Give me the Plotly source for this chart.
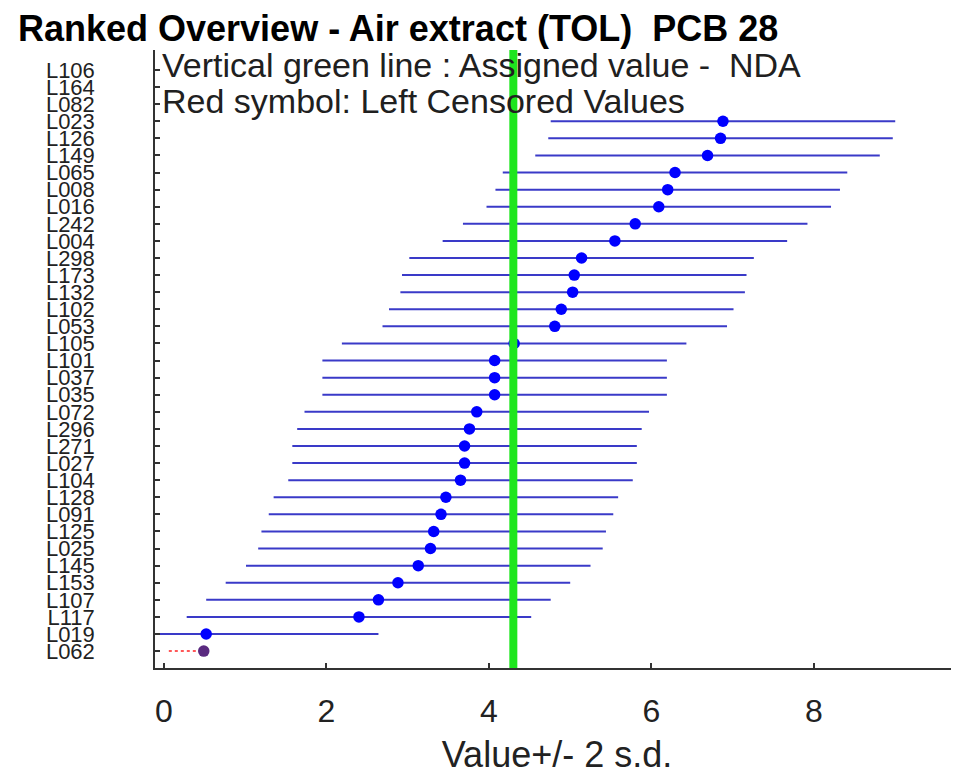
import plotly.graph_objects as go

# Lab codes, bottom (index 0) to top
labs = ["L062", "L019", "L117", "L107", "L153", "L145", "L025", "L125", "L091",
        "L128", "L104", "L027", "L271", "L296", "L072", "L035", "L037", "L101",
        "L105", "L053", "L102", "L132", "L173", "L298", "L004", "L242", "L016",
        "L008", "L065", "L149", "L126", "L023", "L082", "L164", "L106"]

# Reported values (blue symbols)
value_labs = ["L019", "L117", "L107", "L153", "L145", "L025", "L125", "L091",
              "L128", "L104", "L027", "L271", "L296", "L072", "L035", "L037",
              "L101", "L105", "L053", "L102", "L132", "L173", "L298", "L004",
              "L242", "L016", "L008", "L065", "L149", "L126", "L023"]
values = [0.52, 2.40, 2.64, 2.88, 3.13, 3.28, 3.32, 3.41,
          3.47, 3.65, 3.70, 3.70, 3.76, 3.85, 4.07, 4.07,
          4.07, 4.31, 4.81, 4.89, 5.03, 5.05, 5.14, 5.55,
          5.80, 6.09, 6.20, 6.29, 6.69, 6.85, 6.88]
two_sd = 2.12

# Left censored values
censored_labs = ["L062"]
censored_values = [0.49]

assigned_value = 4.30

x_ticks = [0, 2, 4, 6, 8]

FONT = "Liberation Sans, Arial, sans-serif"

W, H = 951, 767

ypos = {lab: i for i, lab in enumerate(labs)}

fig = go.Figure()

fig.add_trace(go.Scatter(
    x=values,
    y=[ypos[l] for l in value_labs],
    mode="markers",
    marker=dict(color="#0000ff", size=11.5),
    error_x=dict(type="constant", value=two_sd, color="rgb(58,58,200)",
                 thickness=2, width=0),
    showlegend=False,
))

for lab, v in zip(censored_labs, censored_values):
    fig.add_trace(go.Scatter(
        x=[0.06, v], y=[ypos[lab], ypos[lab]],
        mode="lines",
        line=dict(color="#ff2020", width=1.5, dash="dot"),
        showlegend=False,
    ))
    fig.add_trace(go.Scatter(
        x=[v], y=[ypos[lab]],
        mode="markers",
        marker=dict(color="#5a2a80", size=11.5),
        showlegend=False,
    ))

fig.add_shape(type="line", x0=assigned_value, x1=assigned_value,
              yref="paper", y0=0, y1=1, xref="x",
              line=dict(color="#1ee61e", width=8), layer="above")

fig.add_annotation(x=-0.05, y=34.3, xref="x", yref="y",
                   text="Vertical green line : Assigned value -  NDA",
                   showarrow=False, xanchor="left", yanchor="middle",
                   font=dict(family=FONT, size=34, color="#202020"))
fig.add_annotation(x=-0.05, y=32.2, xref="x", yref="y",
                   text="Red symbol: Left Censored Values",
                   showarrow=False, xanchor="left", yanchor="middle",
                   font=dict(family=FONT, size=34, color="#202020"))

fig.update_layout(
    width=W, height=H,
    margin=dict(l=147, r=0, t=42, b=107),
    paper_bgcolor="white", plot_bgcolor="white",
    title=dict(text="<b>Ranked Overview - Air extract (TOL)  PCB 28</b>",
               xref="container", yref="container",
               x=10 / W, xanchor="left", y=1 - 20 / H, yanchor="middle",
               font=dict(family=FONT, size=36, color="black")),
    font=dict(family=FONT, color="black"),
)

fig.update_xaxes(
    range=[-0.11, 9.785],
    tickvals=x_ticks, ticktext=[str(t) for t in x_ticks],
    ticks="inside", ticklen=5, tickwidth=1.5, tickcolor="#333",
    showline=True, linecolor="#333", linewidth=1.5, mirror=False,
    showgrid=False, zeroline=False,
    tickfont=dict(family=FONT, size=32, color="#222"),
    ticklabelstandoff=14,
    title=dict(text="Value+/- 2 s.d.", standoff=19,
               font=dict(family=FONT, size=36, color="#222")),
)

fig.update_yaxes(
    range=[-0.99, 35.17],
    tickvals=list(range(len(labs))), ticktext=labs,
    ticks="inside", ticklen=5, tickwidth=1.5, tickcolor="#333",
    showline=True, linecolor="#333", linewidth=1.5, mirror=False,
    showgrid=False, zeroline=False,
    tickfont=dict(family=FONT, size=22, color="#222"),
    ticklabelstandoff=54,
)

fig.write_html("out.html")
